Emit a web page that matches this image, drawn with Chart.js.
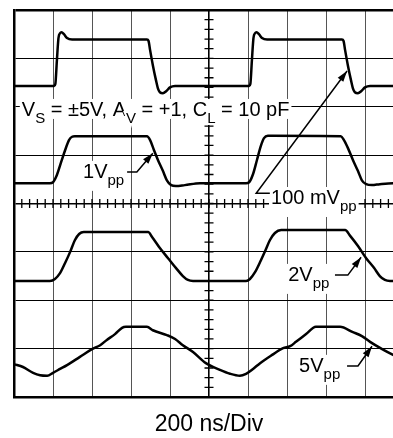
<!DOCTYPE html>
<html>
<head>
<meta charset="utf-8">
<script src="https://cdn.jsdelivr.net/npm/chart.js@4.4.1/dist/chart.umd.min.js"></script>
<style>
  html, body { margin: 0; padding: 0; background: #fff; overflow: hidden; }
  canvas { display: block; }
</style>
</head>
<body>
<canvas id="scope" width="420" height="438"></canvas>
<script>
// screen is 10 x 8 divisions, 200 ns/div; values are in divisions (y from bottom)
const xDivs = 10;
const yDivs = 8;

// 100 mVpp trace (top)
const trace100mX = [0, 1.03, 1.06, 1.10, 1.14, 1.18, 1.22, 1.28, 1.36, 1.49, 3.41, 3.45, 3.49, 3.56, 3.64, 3.69, 3.74, 3.82, 3.90, 4.00, 4.13,
                    6.03, 6.06, 6.10, 6.14, 6.18, 6.22, 6.28, 6.36, 6.49, 8.41, 8.45, 8.49, 8.56, 8.64, 8.69, 8.74, 8.82, 8.90, 9.00, 9.13, 10];
const trace100mY = [6.43, 6.43, 6.47, 6.96, 7.42, 7.52, 7.54, 7.50, 7.42, 7.39, 7.39, 7.36, 7.17, 6.86, 6.55, 6.38, 6.30, 6.28, 6.32, 6.40, 6.43,
                    6.43, 6.47, 6.96, 7.42, 7.52, 7.54, 7.50, 7.42, 7.39, 7.39, 7.36, 7.17, 6.86, 6.55, 6.38, 6.30, 6.28, 6.32, 6.40, 6.43, 6.43];

// 1 Vpp trace
const trace1vX = [0, 0.92, 1.00, 1.10, 1.21, 1.31, 1.41, 1.49, 1.56, 3.41, 3.49, 3.59, 3.69, 3.82, 3.92, 4.03, 4.15, 4.38, 4.77,
                  5.95, 6.03, 6.13, 6.23, 6.33, 6.41, 6.51, 6.62, 8.38, 8.46, 8.56, 8.69, 8.82, 8.92, 9.03, 9.18, 9.38, 9.72, 10];
const trace1vY = [4.42, 4.42, 4.44, 4.59, 4.86, 5.10, 5.31, 5.38, 5.39, 5.39, 5.31, 5.10, 4.90, 4.67, 4.48, 4.38, 4.36, 4.38, 4.42,
                  4.42, 4.44, 4.61, 4.90, 5.19, 5.35, 5.40, 5.40, 5.39, 5.31, 5.15, 4.90, 4.67, 4.48, 4.40, 4.38, 4.40, 4.42, 4.42];

// 2 Vpp trace
const trace2vX = [0, 0.92, 1.05, 1.18, 1.31, 1.44, 1.56, 1.67, 1.79, 3.44, 3.54, 3.74, 3.95, 4.15, 4.33, 4.46, 4.59,
                  5.95, 6.05, 6.18, 6.31, 6.44, 6.56, 6.69, 6.85, 8.49, 8.62, 8.82, 9.03, 9.23, 9.38, 9.51, 9.64, 10];
const trace2vY = [2.40, 2.40, 2.44, 2.56, 2.77, 3.00, 3.24, 3.37, 3.41, 3.41, 3.31, 3.08, 2.87, 2.67, 2.50, 2.42, 2.40,
                  2.40, 2.44, 2.58, 2.79, 3.02, 3.24, 3.39, 3.45, 3.45, 3.33, 3.12, 2.87, 2.67, 2.50, 2.42, 2.40, 2.40];

// 5 Vpp trace (bottom)
const trace5vX = [0, 0.23, 0.49, 0.67, 0.85, 1.00, 1.18, 1.36, 1.69, 2.00, 2.21, 2.38, 2.59, 2.77, 2.87, 3.41, 3.56, 3.92, 4.13, 4.33,
                  4.59, 4.92, 5.28, 5.54, 5.79, 5.95, 6.13, 6.31, 6.62, 6.90, 7.08, 7.23, 7.49, 7.74, 8.36, 8.69, 8.92, 9.13, 9.44, 9.72, 10];
const trace5vY = [0.68, 0.62, 0.50, 0.45, 0.44, 0.50, 0.58, 0.66, 0.83, 0.99, 1.07, 1.18, 1.30, 1.43, 1.45, 1.45, 1.38, 1.28, 1.20, 1.07,
                  0.93, 0.70, 0.56, 0.48, 0.44, 0.48, 0.58, 0.70, 0.87, 1.01, 1.05, 1.14, 1.30, 1.45, 1.45, 1.34, 1.26, 1.14, 0.99, 0.87, 0.76];

const axisTitle = '200 ns/Div';

// label text: [string, isSubscript]
const condText = [['V', 0], ['S', 1], [' = \u00b15V, A', 0], ['V', 1], [' = +1, C', 0], ['L', 1], [' = 10 pF', 0]];
const label1v = [['1V', 0], ['pp', 1]];
const label100m = [['100 mV', 0], ['pp', 1]];
const label2v = [['2V', 0], ['pp', 1]];
const label5v = [['5V', 0], ['pp', 1]];

// where labels sit (left, baseline) and their leader lines, in divisions
const notes = [
  { parts: condText, at: [0.2, 5.81], band: true },
  { parts: label1v, at: [1.77, 4.53] },
  { parts: label100m, at: [6.59, 3.99] },
  { parts: label2v, at: [7.03, 2.40] },
  { parts: label5v, at: [7.31, 0.52] }
];
const leaders = [
  [[2.90, 4.65], [3.15, 4.65], [3.56, 5.04]],
  [[6.56, 4.21], [6.21, 4.21], [8.54, 6.74]],
  [[8.23, 2.52], [8.56, 2.52], [8.90, 2.89]],
  [[8.54, 0.64], [8.82, 0.64], [9.18, 1.05]]
];

const FONT = '"Liberation Sans", Arial, sans-serif';

function toPoints(xs, ys) {
  return xs.map((v, i) => ({ x: v, y: ys[i] }));
}

function drawNote(ctx, px, py, parts, band) {
  const big = '20px ' + FONT, small = '15px ' + FONT;
  let w = 0;
  const widths = parts.map(p => {
    ctx.font = p[1] ? small : big;
    const m = ctx.measureText(p[0]).width;
    w += m;
    return m;
  });
  ctx.fillStyle = '#fff';
  if (band) ctx.fillRect(px - 2, py - 17, w + 4, 20);
  else ctx.fillRect(px - 2, py - 17, w + 4, 30);
  let cx = px;
  parts.forEach((p, i) => {
    ctx.font = p[1] ? small : big;
    const yy = p[1] ? py + 7 : py;
    ctx.lineWidth = 4;
    ctx.strokeStyle = '#fff';
    ctx.strokeText(p[0], cx, yy);
    ctx.fillStyle = '#000';
    ctx.fillText(p[0], cx, yy);
    cx += widths[i];
  });
}

const scopeDecor = {
  id: 'scopeDecor',
  beforeDatasetsDraw(chart) {
    const { ctx, scales: { x, y } } = chart;
    ctx.save();
    // minor marks on the centre graticule lines
    ctx.strokeStyle = '#000';
    ctx.lineWidth = 1.3;
    ctx.beginPath();
    const cy = y.getPixelForValue(yDivs / 2), cx = x.getPixelForValue(xDivs / 2);
    for (let i = 1; i < xDivs * 5; i++) {
      const px = x.getPixelForValue(i / 5);
      ctx.moveTo(px, cy - 4.5); ctx.lineTo(px, cy + 4.5);
    }
    for (let i = 1; i < yDivs * 5; i++) {
      const py = y.getPixelForValue(i / 5);
      ctx.moveTo(cx - 4.5, py); ctx.lineTo(cx + 4.5, py);
    }
    ctx.stroke();

    ctx.textBaseline = 'alphabetic';
    notes.forEach(n => drawNote(ctx, x.getPixelForValue(n.at[0]), y.getPixelForValue(n.at[1]), n.parts, n.band));

    // leader lines with arrow heads
    ctx.strokeStyle = '#000';
    ctx.fillStyle = '#000';
    ctx.lineWidth = 1.5;
    leaders.forEach(l => {
      const pts = l.map(p => [x.getPixelForValue(p[0]), y.getPixelForValue(p[1])]);
      ctx.beginPath();
      pts.forEach((p, i) => i ? ctx.lineTo(p[0], p[1]) : ctx.moveTo(p[0], p[1]));
      ctx.stroke();
      const a = pts[pts.length - 2], b = pts[pts.length - 1];
      const ang = Math.atan2(b[1] - a[1], b[0] - a[0]);
      ctx.beginPath();
      ctx.moveTo(b[0], b[1]);
      ctx.lineTo(b[0] - 11 * Math.cos(ang) + 3.5 * Math.sin(ang), b[1] - 11 * Math.sin(ang) - 3.5 * Math.cos(ang));
      ctx.lineTo(b[0] - 11 * Math.cos(ang) - 3.5 * Math.sin(ang), b[1] - 11 * Math.sin(ang) + 3.5 * Math.cos(ang));
      ctx.closePath();
      ctx.fill();
    });
    ctx.restore();
  },
  afterDraw(chart) {
    const { ctx, chartArea, scales: { x } } = chart;
    ctx.save();
    ctx.font = '23px ' + FONT;
    ctx.fillStyle = '#000';
    ctx.textAlign = 'center';
    ctx.fillText(axisTitle, x.getPixelForValue(xDivs / 2), chartArea.bottom + 34);
    ctx.restore();
  }
};

const traceStyle = {
  borderColor: '#000',
  borderWidth: 2.5,
  pointRadius: 0,
  fill: false,
  cubicInterpolationMode: 'monotone'
};

new Chart(document.getElementById('scope'), {
  type: 'line',
  data: {
    datasets: [
      Object.assign({ label: '100 mVpp', data: toPoints(trace100mX, trace100mY) }, traceStyle),
      Object.assign({ label: '1 Vpp', data: toPoints(trace1vX, trace1vY) }, traceStyle),
      Object.assign({ label: '2 Vpp', data: toPoints(trace2vX, trace2vY) }, traceStyle),
      Object.assign({ label: '5 Vpp', data: toPoints(trace5vX, trace5vY) }, traceStyle)
    ]
  },
  options: {
    responsive: false,
    devicePixelRatio: 1,
    animation: false,
    events: [],
    layout: { padding: { left: 14, top: 10, right: 16, bottom: 41 } },
    plugins: { legend: { display: false }, tooltip: { enabled: false } },
    scales: {
      x: {
        type: 'linear',
        min: 0,
        max: xDivs,
        afterFit: s => { s.height = 0; },
        ticks: { display: false, stepSize: 1 },
        grid: {
          drawTicks: false,
          color: ctx => ctx.tick.value === xDivs / 2 ? '#000' : '#555',
          lineWidth: ctx => ctx.tick.value === xDivs / 2 ? 1.6 : 1
        },
        border: { display: true, color: '#000', width: 2.5 }
      },
      y: {
        type: 'linear',
        min: 0,
        max: yDivs,
        afterFit: s => { s.width = 0; },
        ticks: { display: false, stepSize: 1 },
        grid: {
          drawTicks: false,
          color: '#000',
          lineWidth: ctx => ctx.tick.value === yDivs ? 2.5 : (ctx.tick.value === yDivs / 2 ? 1.6 : 1)
        },
        border: { display: true, color: '#000', width: 2.5 }
      }
    }
  },
  plugins: [scopeDecor]
});
</script>
</body>
</html>
